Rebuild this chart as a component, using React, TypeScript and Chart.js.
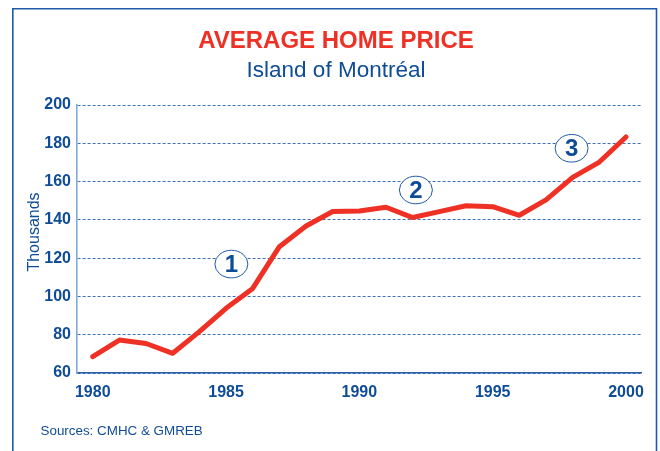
import React, { useEffect, useRef } from "react";
import { Chart, registerables } from "chart.js";

Chart.register(...registerables);

const years = [1980, 1981, 1982, 1983, 1984, 1985, 1986, 1987, 1988, 1989, 1990, 1991, 1992, 1993, 1994, 1995, 1996, 1997, 1998, 1999, 2000];
const prices = [68.5, 77.2, 75.4, 70.3, 81.6, 93.8, 104.2, 126.0, 136.8, 144.4, 144.6, 146.6, 141.2, 144.3, 147.4, 146.9, 142.4, 150.4, 162.2, 170.2, 183.3];
const xTickYears = [1980, 1985, 1990, 1995, 2000];
const yTicks = [60, 80, 100, 120, 140, 160, 180, 200];

const markerLabels = ["1", "2", "3"];
const markerYears = [1985.2, 1992.12, 1997.96];
const markerValues = [116.9, 155.6, 177.4];

const titleText = "AVERAGE HOME PRICE";
const subtitleText = "Island of Montréal";
const yAxisTitle = "Thousands";
const sourceText = "Sources: CMHC & GMREB";

const BLUE = "#0f4c97";
const FRAME = "#1d5aa6";
const RED = "#ee3124";
const FONT = "'Liberation Sans', Arial, sans-serif";

const decorPlugin = {
  id: "decor",
  afterDatasetsDraw(chart: any) {
    const { ctx, scales } = chart;
    const xs = scales.x;
    const ys = scales.y;
    ctx.save();
    // frame
    ctx.strokeStyle = FRAME;
    ctx.lineWidth = 1.6;
    ctx.beginPath();
    ctx.moveTo(12.8, 460);
    ctx.lineTo(12.8, 8.8);
    ctx.lineTo(656.5, 8.8);
    ctx.lineTo(656.5, 460);
    ctx.stroke();
    // circled markers
    for (let i = 0; i < markerLabels.length; i++) {
      const cx = xs.getPixelForValue(markerYears[i]);
      const cy = ys.getPixelForValue(markerValues[i]);
      ctx.beginPath();
      ctx.ellipse(cx, cy, 16.5, 13.8, 0, 0, Math.PI * 2);
      ctx.fillStyle = "#ffffff";
      ctx.fill();
      ctx.lineWidth = 1;
      ctx.strokeStyle = FRAME;
      ctx.stroke();
      ctx.fillStyle = BLUE;
      ctx.font = `bold 24px ${FONT}`;
      ctx.textAlign = "center";
      ctx.textBaseline = "middle";
      ctx.fillText(markerLabels[i], cx, cy + 1);
    }
    // y axis title
    ctx.save();
    ctx.translate(38.5, 232);
    ctx.rotate(-Math.PI / 2);
    ctx.fillStyle = BLUE;
    ctx.font = `16px ${FONT}`;
    ctx.textAlign = "center";
    ctx.textBaseline = "alphabetic";
    ctx.fillText(yAxisTitle, 0, 0);
    ctx.restore();
    // sources
    ctx.fillStyle = BLUE;
    ctx.font = `13.4px ${FONT}`;
    ctx.textAlign = "left";
    ctx.textBaseline = "middle";
    ctx.fillText(sourceText, 40.5, 431.5);
    ctx.restore();
  },
};

export default function App() {
  const canvasRef = useRef<HTMLCanvasElement | null>(null);

  useEffect(() => {
    const canvas = canvasRef.current;
    if (!canvas) return;
    const chart = new Chart(canvas, {
      type: "line",
      data: {
        datasets: [
          {
            data: years.map((y, i) => ({ x: y, y: prices[i] })),
            borderColor: RED,
            borderWidth: 5,
            pointRadius: 0,
            tension: 0,
            fill: false,
            borderJoinStyle: "round",
            borderCapStyle: "round",
          },
        ],
      },
      options: {
        responsive: false,
        animation: false,
        layout: { padding: { left: 30, right: 18, top: 0, bottom: 0 } },
        plugins: {
          legend: { display: false },
          tooltip: { enabled: false },
          title: {
            display: true,
            text: titleText,
            color: RED,
            font: { family: FONT, size: 24, weight: "bold", lineHeight: 1.2 },
            padding: { top: 27, bottom: 1 },
          },
          subtitle: {
            display: true,
            text: subtitleText,
            color: BLUE,
            font: { family: FONT, size: 22.5, weight: "normal", lineHeight: 1.2 },
            padding: { top: 0, bottom: 21.2 },
          },
        },
        scales: {
          x: {
            type: "linear",
            min: 1979.41,
            max: 2000.6,
            afterBuildTicks: (scale: any) => {
              scale.ticks = xTickYears.map((v) => ({ value: v }));
            },
            afterFit: (scale: any) => {
              scale.height = 78;
            },
            grid: { display: true, drawTicks: false, lineWidth: 0, color: "rgba(0,0,0,0)" },
            border: { display: true, color: "#2a5ea8", width: 1.6 },
            ticks: {
              color: BLUE,
              font: { family: FONT, size: 16, weight: "bold" },
              padding: 10,
              maxRotation: 0,
              callback: (v: any) => String(v),
            },
          },
          y: {
            min: 60,
            max: 200,
            afterBuildTicks: (scale: any) => {
              scale.ticks = yTicks.map((v) => ({ value: v }));
            },
            afterFit: (scale: any) => {
              scale.width = 47;
            },
            grid: { display: true, drawTicks: false, color: "#3f70b6", lineWidth: 1 },
            border: { display: true, color: "#86a8d6", width: 1.6, dash: [3, 2] },
            ticks: {
              color: BLUE,
              font: { family: FONT, size: 16, weight: "bold" },
              padding: 6,
              callback: (v: any) => String(v),
            },
            title: { display: false },
          },
        },
      },
      plugins: [decorPlugin],
    });
    return () => chart.destroy();
  }, []);

  return (
    <div style={{ position: "fixed", left: 0, top: 0, width: 660, height: 451, background: "#fff" }}>
      <canvas ref={canvasRef} width={660} height={451} style={{ display: "block", width: 660, height: 451 }} />
    </div>
  );
}
